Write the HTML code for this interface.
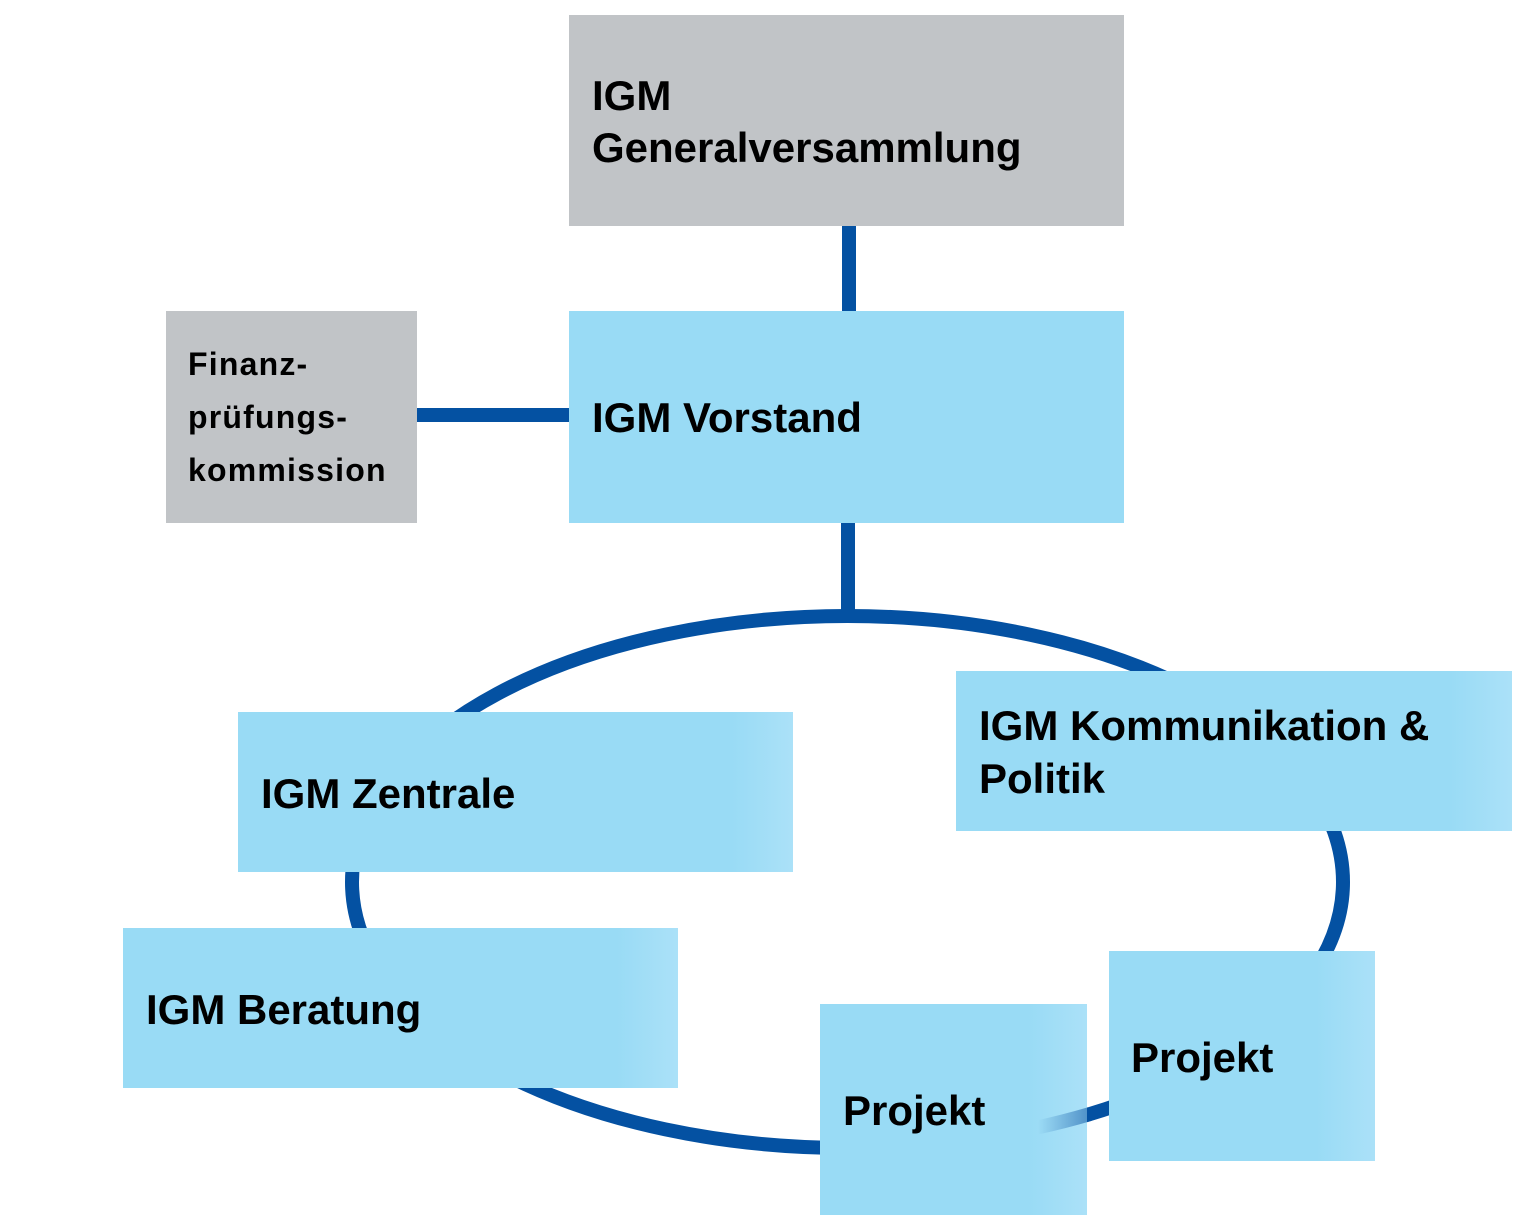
<!DOCTYPE html>
<html>
<head>
<meta charset="utf-8">
<style>
  html,body{margin:0;padding:0;background:#ffffff;}
  svg{display:block;}
  text{font-family:"Liberation Sans", Arial, sans-serif;font-weight:bold;fill:#000;}
</style>
</head>
<body>
<svg width="1528" height="1230" viewBox="0 0 1528 1230" xmlns="http://www.w3.org/2000/svg">
  <defs>
    <linearGradient id="gBig" x1="0" y1="0" x2="1" y2="0">
      <stop offset="0" stop-color="#99dbf5"/>
      <stop offset="0.89" stop-color="#99dbf5"/>
      <stop offset="1" stop-color="#abe1f8"/>
    </linearGradient>
    <linearGradient id="gSmall" x1="0" y1="0" x2="1" y2="0">
      <stop offset="0" stop-color="#99dbf5"/>
      <stop offset="0.78" stop-color="#99dbf5"/>
      <stop offset="1" stop-color="#abe1f8"/>
    </linearGradient>
    <linearGradient id="gFade" gradientUnits="userSpaceOnUse" x1="1038" y1="0" x2="1088" y2="0">
      <stop offset="0" stop-color="#0451a2" stop-opacity="0"/>
      <stop offset="1" stop-color="#0451a2" stop-opacity="0.55"/>
    </linearGradient>
  </defs>

  <!-- ring -->
  <ellipse cx="847.5" cy="882" rx="495.5" ry="266" fill="none" stroke="#0451a2" stroke-width="14"/>

  <!-- connectors -->
  <rect x="842" y="224" width="14" height="89" fill="#0451a2"/>
  <rect x="841" y="521" width="14" height="96" fill="#0451a2"/>
  <rect x="415" y="408" width="156" height="14" fill="#0451a2"/>

  <!-- top boxes -->
  <rect x="569" y="15" width="555" height="211" fill="#c1c4c7"/>
  <rect x="569" y="311" width="555" height="212" fill="#99dbf5"/>
  <rect x="166" y="311" width="251" height="212" fill="#c1c4c7"/>

  <!-- ring boxes -->
  <rect x="238" y="712" width="555" height="160" fill="url(#gBig)"/>
  <rect x="956" y="671" width="556" height="160" fill="url(#gBig)"/>
  <rect x="123" y="928" width="555" height="160" fill="url(#gBig)"/>
  <rect x="820" y="1004" width="267" height="211" fill="url(#gSmall)"/>
  <path d="M1036 1127.8 A495.5 266 0 0 0 1090 1114" fill="none" stroke="url(#gFade)" stroke-width="14"/>
  <rect x="1109" y="951" width="266" height="210" fill="url(#gSmall)"/>

  <!-- labels -->
  <text x="592" y="110" font-size="42">IGM</text>
  <text x="592" y="162" font-size="42">Generalversammlung</text>

  <text x="592" y="432" font-size="42">IGM Vorstand</text>

  <text x="188" y="375" font-size="32" letter-spacing="1.2">Finanz-</text>
  <text x="188" y="428" font-size="32" letter-spacing="1.2">prüfungs-</text>
  <text x="188" y="481" font-size="32" letter-spacing="1.2">kommission</text>

  <text x="261" y="808" font-size="42">IGM Zentrale</text>

  <text x="979" y="740" font-size="42">IGM Kommunikation &amp;</text>
  <text x="979" y="793" font-size="42">Politik</text>

  <text x="146" y="1024" font-size="42">IGM Beratung</text>

  <text x="1131" y="1072" font-size="42">Projekt</text>
  <text x="843" y="1125" font-size="42">Projekt</text>
</svg>
</body>
</html>
